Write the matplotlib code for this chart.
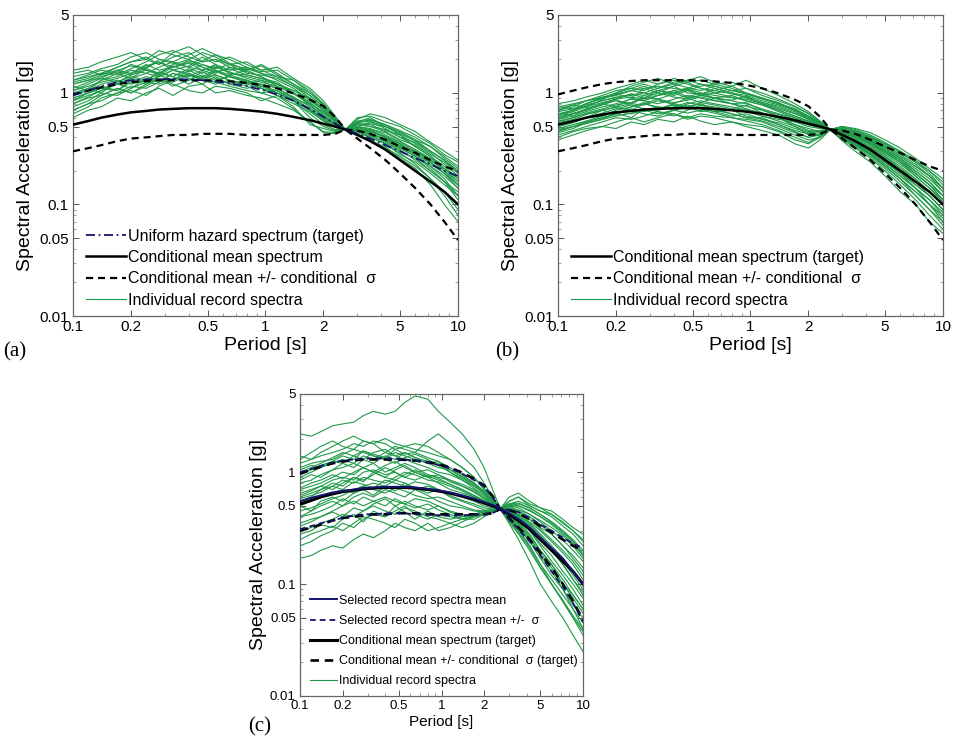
import numpy as np
import matplotlib
matplotlib.use("Agg")
import matplotlib.pyplot as plt
from matplotlib.ticker import LogLocator, NullFormatter

# -----------------------------
# Fonts
# -----------------------------
plt.rcParams["font.family"] = ["Liberation Sans", "DejaVu Sans"]

# -----------------------------
# Data
# -----------------------------
periods = [0.1, 0.12, 0.14, 0.17, 0.2, 0.24, 0.28, 0.33, 0.4, 0.47, 0.55, 0.65, 0.8, 0.95,
           1.15, 1.4, 1.7, 2.0, 2.3, 2.6, 3.0, 3.5, 4.2, 5.0, 6.0, 7.2, 8.5, 10]

cms_mean = [0.52, 0.56, 0.60, 0.64, 0.67, 0.69, 0.71, 0.72, 0.73, 0.73, 0.73, 0.72, 0.70, 0.68,
            0.65, 0.61, 0.57, 0.53, 0.50, 0.47, 0.42, 0.37, 0.31, 0.25, 0.20, 0.16, 0.13, 0.10]
cms_plus = [0.97, 1.05, 1.12, 1.20, 1.25, 1.28, 1.30, 1.30, 1.30, 1.30, 1.29, 1.27, 1.23, 1.18,
            1.10, 0.99, 0.87, 0.76, 0.61, 0.47, 0.46, 0.43, 0.38, 0.33, 0.29, 0.25, 0.22, 0.20]
cms_minus = [0.30, 0.32, 0.34, 0.37, 0.39, 0.40, 0.41, 0.42, 0.42, 0.43, 0.43, 0.43, 0.42, 0.42,
             0.42, 0.42, 0.42, 0.42, 0.43, 0.47, 0.39, 0.32, 0.25, 0.19, 0.14, 0.10, 0.07, 0.048]
uhs = [0.95, 1.05, 1.15, 1.25, 1.30, 1.32, 1.33, 1.33, 1.32, 1.30, 1.27, 1.22, 1.15, 1.07,
       0.97, 0.85, 0.72, 0.61, 0.53, 0.47, 0.43, 0.39, 0.34, 0.30, 0.26, 0.23, 0.20, 0.18]

sel_mean = [0.55, 0.59, 0.62, 0.66, 0.68, 0.70, 0.72, 0.73, 0.74, 0.74, 0.74, 0.73, 0.71, 0.69,
            0.66, 0.62, 0.58, 0.54, 0.51, 0.47, 0.43, 0.38, 0.32, 0.26, 0.21, 0.17, 0.13, 0.10]
sel_plus = [1.00, 1.07, 1.14, 1.22, 1.27, 1.30, 1.32, 1.33, 1.33, 1.32, 1.30, 1.27, 1.22, 1.16,
            1.08, 0.97, 0.85, 0.74, 0.60, 0.47, 0.46, 0.44, 0.39, 0.34, 0.30, 0.26, 0.23, 0.21]
sel_minus = [0.31, 0.33, 0.35, 0.37, 0.39, 0.41, 0.42, 0.42, 0.43, 0.43, 0.43, 0.42, 0.42, 0.41,
             0.41, 0.41, 0.42, 0.42, 0.43, 0.47, 0.38, 0.31, 0.24, 0.18, 0.13, 0.095, 0.068, 0.046]

records_a = [
    [0.85, 0.95, 1.05, 1.2, 1.35, 1.5, 1.4, 1.6, 1.5, 1.35, 1.45, 1.3, 1.2, 1.1, 0.95, 0.85, 0.7, 0.6, 0.52, 0.47, 0.5, 0.45, 0.4, 0.33, 0.3, 0.25, 0.21, 0.17],
    [1.3, 1.4, 1.5, 1.7, 1.9, 2.0, 1.8, 2.1, 2.3, 1.9, 2.0, 1.7, 1.6, 1.8, 1.5, 1.2, 0.95, 0.75, 0.58, 0.47, 0.55, 0.6, 0.5, 0.45, 0.38, 0.3, 0.25, 0.2],
    [0.6, 0.7, 0.75, 0.9, 0.85, 1.0, 1.1, 0.95, 1.15, 1.2, 1.0, 1.05, 0.95, 0.9, 0.8, 0.7, 0.55, 0.45, 0.44, 0.47, 0.45, 0.4, 0.35, 0.28, 0.24, 0.19, 0.15, 0.12],
    [1.0, 1.1, 1.3, 1.4, 1.6, 1.5, 1.7, 1.9, 1.7, 1.6, 1.8, 1.5, 1.4, 1.3, 1.2, 1.05, 0.9, 0.72, 0.56, 0.47, 0.52, 0.5, 0.45, 0.38, 0.34, 0.28, 0.24, 0.19],
    [0.75, 0.85, 1.0, 0.95, 1.1, 1.25, 1.2, 1.35, 1.3, 1.45, 1.3, 1.4, 1.25, 1.15, 1.05, 0.9, 0.78, 0.62, 0.52, 0.47, 0.47, 0.43, 0.38, 0.32, 0.27, 0.22, 0.18, 0.14],
    [1.6, 1.7, 1.9, 2.1, 2.3, 2.0, 2.4, 2.2, 2.0, 2.3, 2.1, 1.8, 1.9, 1.6, 1.4, 1.3, 1.05, 0.8, 0.6, 0.47, 0.6, 0.62, 0.55, 0.5, 0.42, 0.35, 0.28, 0.24],
    [0.9, 1.0, 1.1, 1.05, 1.25, 1.4, 1.3, 1.25, 1.45, 1.3, 1.2, 1.3, 1.15, 1.0, 1.05, 0.85, 0.6, 0.5, 0.46, 0.47, 0.42, 0.38, 0.32, 0.27, 0.22, 0.17, 0.13, 0.09],
    [1.1, 1.25, 1.4, 1.55, 1.45, 1.7, 1.9, 1.6, 1.75, 2.1, 1.8, 1.6, 1.7, 1.5, 1.3, 1.1, 0.85, 0.7, 0.57, 0.47, 0.5, 0.55, 0.48, 0.4, 0.36, 0.3, 0.25, 0.2],
    [0.7, 0.8, 0.85, 1.0, 1.15, 1.1, 1.25, 1.5, 1.35, 1.2, 1.4, 1.2, 1.1, 1.2, 1.0, 0.85, 0.7, 0.58, 0.5, 0.47, 0.45, 0.47, 0.4, 0.35, 0.28, 0.24, 0.19, 0.15],
    [1.2, 1.3, 1.35, 1.6, 1.75, 1.6, 1.5, 1.8, 2.0, 1.7, 1.55, 1.65, 1.45, 1.35, 1.25, 1.0, 0.82, 0.66, 0.55, 0.47, 0.53, 0.52, 0.46, 0.42, 0.33, 0.27, 0.22, 0.17],
    [0.95, 1.05, 1.2, 1.3, 1.2, 1.3, 1.5, 1.4, 1.2, 1.4, 1.6, 1.4, 1.3, 1.1, 0.95, 0.8, 0.68, 0.56, 0.5, 0.47, 0.48, 0.42, 0.36, 0.3, 0.26, 0.2, 0.16, 0.11],
    [1.4, 1.5, 1.65, 1.8, 2.1, 2.3, 2.0, 1.9, 2.2, 2.5, 2.2, 2.0, 1.7, 1.55, 1.6, 1.3, 1.0, 0.78, 0.6, 0.47, 0.56, 0.58, 0.52, 0.44, 0.38, 0.33, 0.27, 0.22],
    [0.8, 0.9, 0.95, 1.1, 1.0, 1.2, 1.35, 1.2, 1.05, 1.0, 1.15, 1.1, 1.0, 0.85, 0.95, 0.75, 0.52, 0.48, 0.45, 0.47, 0.43, 0.37, 0.33, 0.26, 0.21, 0.15, 0.1, 0.07],
    [1.05, 1.15, 1.25, 1.35, 1.5, 1.8, 1.6, 1.7, 1.9, 1.7, 1.5, 1.7, 1.55, 1.4, 1.15, 0.98, 0.8, 0.68, 0.56, 0.47, 0.5, 0.47, 0.44, 0.37, 0.31, 0.26, 0.21, 0.16],
    [1.25, 1.35, 1.5, 1.45, 1.65, 1.9, 2.2, 2.4, 2.1, 1.9, 2.0, 1.8, 1.5, 1.45, 1.35, 1.15, 0.9, 0.7, 0.55, 0.47, 0.52, 0.53, 0.5, 0.42, 0.35, 0.29, 0.23, 0.18],
    [0.65, 0.75, 0.9, 1.0, 1.05, 0.95, 1.15, 1.3, 1.5, 1.3, 1.25, 1.15, 1.05, 1.0, 0.9, 0.72, 0.55, 0.44, 0.43, 0.47, 0.46, 0.41, 0.37, 0.31, 0.25, 0.2, 0.16, 0.13],
    [1.5, 1.6, 1.45, 1.7, 1.9, 2.1, 1.8, 2.3, 2.6, 2.2, 1.9, 2.1, 1.8, 1.6, 1.7, 1.35, 1.1, 0.85, 0.62, 0.47, 0.58, 0.65, 0.6, 0.52, 0.45, 0.36, 0.3, 0.25],
    [0.85, 1.0, 1.15, 1.05, 1.3, 1.2, 1.45, 1.3, 1.6, 1.4, 1.25, 1.45, 1.3, 1.2, 1.1, 0.92, 0.75, 0.6, 0.52, 0.47, 0.49, 0.46, 0.4, 0.34, 0.29, 0.23, 0.19, 0.15],
    [1.15, 1.05, 1.3, 1.5, 1.35, 1.65, 1.5, 1.75, 1.55, 1.8, 1.6, 1.45, 1.6, 1.4, 1.2, 1.05, 0.88, 0.7, 0.56, 0.47, 0.53, 0.5, 0.47, 0.4, 0.33, 0.27, 0.2, 0.15],
    [0.7, 0.8, 0.95, 1.1, 1.0, 1.15, 1.35, 1.15, 1.3, 1.55, 1.35, 1.2, 1.3, 1.1, 1.0, 0.85, 0.65, 0.52, 0.47, 0.47, 0.44, 0.4, 0.35, 0.29, 0.23, 0.17, 0.12, 0.08],
    [1.3, 1.45, 1.6, 1.5, 1.8, 1.65, 2.0, 1.85, 1.7, 1.95, 2.2, 1.85, 1.6, 1.75, 1.45, 1.2, 1.0, 0.8, 0.6, 0.47, 0.55, 0.57, 0.52, 0.46, 0.4, 0.33, 0.26, 0.21],
    [0.95, 1.1, 1.0, 1.25, 1.4, 1.3, 1.55, 1.4, 1.65, 1.5, 1.7, 1.55, 1.35, 1.25, 1.15, 1.0, 0.82, 0.64, 0.53, 0.47, 0.5, 0.48, 0.42, 0.36, 0.31, 0.25, 0.2, 0.16],
    [1.05, 1.2, 1.35, 1.25, 1.45, 1.6, 1.45, 1.7, 1.85, 1.6, 1.75, 1.5, 1.45, 1.35, 1.2, 1.0, 0.78, 0.62, 0.52, 0.47, 0.47, 0.45, 0.41, 0.35, 0.3, 0.24, 0.19, 0.14],
    [0.8, 0.92, 1.05, 1.2, 1.1, 1.35, 1.25, 1.5, 1.4, 1.6, 1.45, 1.3, 1.2, 1.3, 1.1, 0.9, 0.7, 0.56, 0.49, 0.47, 0.46, 0.43, 0.39, 0.33, 0.28, 0.22, 0.17, 0.12],
    [1.2, 1.3, 1.45, 1.6, 1.5, 1.75, 1.9, 1.7, 1.95, 1.8, 1.65, 1.8, 1.65, 1.5, 1.4, 1.15, 0.95, 0.75, 0.58, 0.47, 0.54, 0.56, 0.5, 0.43, 0.37, 0.3, 0.25, 0.19],
    [0.9, 1.0, 1.1, 1.2, 1.35, 1.25, 1.4, 1.6, 1.45, 1.35, 1.55, 1.4, 1.25, 1.15, 1.0, 0.88, 0.72, 0.58, 0.5, 0.47, 0.48, 0.44, 0.38, 0.32, 0.27, 0.21, 0.16, 0.12],
]

records_b = [
    [0.55, 0.6, 0.65, 0.7, 0.75, 0.8, 0.78, 0.85, 0.8, 0.75, 0.8, 0.72, 0.7, 0.68, 0.62, 0.58, 0.55, 0.52, 0.5, 0.47, 0.42, 0.38, 0.32, 0.26, 0.21, 0.16, 0.13, 0.1],
    [0.7, 0.75, 0.85, 0.95, 1.05, 1.1, 1.2, 1.1, 1.25, 1.3, 1.2, 1.15, 1.05, 1.1, 0.95, 0.85, 0.75, 0.65, 0.55, 0.47, 0.5, 0.45, 0.4, 0.35, 0.3, 0.24, 0.2, 0.15],
    [0.4, 0.45, 0.48, 0.5, 0.55, 0.6, 0.55, 0.6, 0.65, 0.58, 0.62, 0.6, 0.55, 0.52, 0.5, 0.45, 0.38, 0.35, 0.4, 0.47, 0.38, 0.32, 0.26, 0.2, 0.15, 0.11, 0.08, 0.06],
    [0.6, 0.65, 0.72, 0.8, 0.85, 0.8, 0.9, 1.0, 0.92, 0.88, 0.95, 0.9, 0.85, 0.8, 0.72, 0.65, 0.6, 0.55, 0.5, 0.47, 0.44, 0.4, 0.35, 0.28, 0.23, 0.18, 0.14, 0.11],
    [0.45, 0.5, 0.55, 0.6, 0.65, 0.7, 0.65, 0.62, 0.7, 0.75, 0.68, 0.72, 0.65, 0.6, 0.6, 0.52, 0.45, 0.4, 0.42, 0.47, 0.4, 0.35, 0.28, 0.22, 0.17, 0.13, 0.1, 0.07],
    [0.75, 0.8, 0.85, 0.9, 1.0, 1.1, 1.05, 1.2, 1.3, 1.2, 1.1, 1.05, 1.15, 1.0, 0.9, 0.8, 0.7, 0.6, 0.52, 0.47, 0.48, 0.44, 0.39, 0.33, 0.27, 0.22, 0.18, 0.13],
    [0.5, 0.55, 0.6, 0.62, 0.7, 0.75, 0.8, 0.75, 0.72, 0.8, 0.85, 0.8, 0.75, 0.7, 0.65, 0.6, 0.52, 0.48, 0.45, 0.47, 0.43, 0.37, 0.3, 0.24, 0.19, 0.15, 0.12, 0.09],
    [0.65, 0.7, 0.78, 0.85, 0.92, 0.95, 1.0, 0.95, 1.05, 1.1, 1.0, 0.95, 0.9, 0.88, 0.8, 0.72, 0.65, 0.58, 0.52, 0.47, 0.45, 0.42, 0.36, 0.3, 0.25, 0.19, 0.15, 0.12],
    [0.42, 0.46, 0.5, 0.55, 0.6, 0.58, 0.62, 0.68, 0.65, 0.6, 0.65, 0.62, 0.6, 0.58, 0.55, 0.48, 0.42, 0.38, 0.4, 0.47, 0.39, 0.33, 0.27, 0.21, 0.16, 0.12, 0.09, 0.065],
    [0.58, 0.62, 0.68, 0.75, 0.8, 0.88, 0.85, 0.8, 0.88, 0.95, 0.9, 0.85, 0.8, 0.82, 0.7, 0.62, 0.55, 0.5, 0.48, 0.47, 0.44, 0.39, 0.33, 0.27, 0.21, 0.17, 0.13, 0.1],
    [0.68, 0.72, 0.8, 0.9, 0.95, 1.05, 1.15, 1.05, 1.0, 1.1, 1.2, 1.1, 1.0, 0.95, 0.85, 0.78, 0.7, 0.62, 0.54, 0.47, 0.47, 0.43, 0.37, 0.31, 0.26, 0.2, 0.16, 0.12],
    [0.48, 0.52, 0.56, 0.62, 0.68, 0.65, 0.7, 0.72, 0.78, 0.72, 0.75, 0.68, 0.62, 0.65, 0.58, 0.52, 0.46, 0.43, 0.44, 0.47, 0.41, 0.36, 0.29, 0.23, 0.18, 0.14, 0.11, 0.08],
    [0.62, 0.68, 0.75, 0.82, 0.88, 0.92, 0.88, 0.95, 1.0, 0.9, 0.95, 1.0, 0.92, 0.85, 0.78, 0.7, 0.62, 0.56, 0.5, 0.47, 0.46, 0.41, 0.35, 0.29, 0.24, 0.19, 0.15, 0.11],
    [0.52, 0.56, 0.6, 0.66, 0.72, 0.78, 0.72, 0.7, 0.75, 0.82, 0.78, 0.75, 0.7, 0.72, 0.62, 0.56, 0.5, 0.45, 0.46, 0.47, 0.42, 0.37, 0.31, 0.25, 0.2, 0.15, 0.12, 0.09],
    [0.72, 0.78, 0.85, 0.92, 0.98, 1.05, 1.1, 1.15, 1.1, 1.05, 1.15, 1.2, 1.1, 0.98, 0.88, 0.8, 0.72, 0.62, 0.54, 0.47, 0.49, 0.46, 0.41, 0.35, 0.29, 0.24, 0.19, 0.14],
    [0.46, 0.5, 0.53, 0.58, 0.62, 0.66, 0.7, 0.65, 0.7, 0.66, 0.7, 0.66, 0.6, 0.56, 0.52, 0.46, 0.4, 0.36, 0.41, 0.47, 0.4, 0.34, 0.28, 0.22, 0.17, 0.12, 0.09, 0.07],
    [0.56, 0.6, 0.66, 0.72, 0.78, 0.82, 0.9, 0.88, 0.82, 0.86, 0.92, 0.86, 0.8, 0.76, 0.7, 0.64, 0.58, 0.52, 0.49, 0.47, 0.45, 0.4, 0.34, 0.27, 0.22, 0.17, 0.13, 0.1],
    [0.64, 0.7, 0.76, 0.86, 0.9, 0.98, 0.95, 1.05, 1.15, 1.0, 0.98, 1.05, 0.98, 0.92, 0.82, 0.74, 0.66, 0.6, 0.53, 0.47, 0.46, 0.43, 0.38, 0.32, 0.26, 0.21, 0.17, 0.13],
    [0.62, 0.7, 0.8, 0.9, 1.0, 1.15, 1.25, 1.35, 1.2, 1.3, 1.4, 1.25, 1.15, 1.3, 1.1, 0.95, 0.8, 0.68, 0.56, 0.47, 0.5, 0.47, 0.42, 0.36, 0.3, 0.25, 0.2, 0.16],
    [0.38, 0.42, 0.46, 0.5, 0.48, 0.55, 0.52, 0.58, 0.55, 0.62, 0.56, 0.52, 0.55, 0.5, 0.46, 0.42, 0.35, 0.32, 0.38, 0.47, 0.37, 0.3, 0.24, 0.18, 0.13, 0.1, 0.07, 0.055],
    [0.58, 0.65, 0.7, 0.8, 0.75, 0.9, 0.85, 0.95, 1.05, 0.92, 1.0, 0.9, 0.95, 0.85, 0.78, 0.68, 0.6, 0.52, 0.48, 0.47, 0.44, 0.41, 0.36, 0.29, 0.24, 0.18, 0.14, 0.105],
    [0.7, 0.78, 0.74, 0.88, 0.98, 0.9, 1.1, 1.0, 1.15, 1.25, 1.1, 1.0, 1.05, 0.98, 0.9, 0.82, 0.7, 0.6, 0.53, 0.47, 0.47, 0.45, 0.4, 0.34, 0.28, 0.23, 0.18, 0.14],
    [0.44, 0.48, 0.54, 0.58, 0.66, 0.6, 0.72, 0.68, 0.62, 0.7, 0.78, 0.7, 0.65, 0.6, 0.56, 0.5, 0.44, 0.4, 0.43, 0.47, 0.4, 0.34, 0.28, 0.22, 0.17, 0.13, 0.1, 0.075],
    [0.66, 0.62, 0.72, 0.8, 0.88, 0.98, 0.9, 1.05, 0.95, 1.05, 0.95, 1.1, 1.0, 0.9, 0.82, 0.76, 0.68, 0.58, 0.51, 0.47, 0.45, 0.42, 0.37, 0.3, 0.24, 0.19, 0.15, 0.11],
    [0.5, 0.54, 0.6, 0.7, 0.65, 0.75, 0.82, 0.72, 0.8, 0.9, 0.82, 0.78, 0.72, 0.78, 0.66, 0.6, 0.52, 0.46, 0.45, 0.47, 0.43, 0.38, 0.32, 0.26, 0.2, 0.16, 0.12, 0.09],
    [0.8, 0.85, 0.92, 1.0, 1.1, 1.2, 1.3, 1.2, 1.35, 1.25, 1.3, 1.2, 1.25, 1.1, 1.0, 0.88, 0.76, 0.66, 0.55, 0.47, 0.5, 0.48, 0.44, 0.38, 0.32, 0.26, 0.21, 0.17],
    [0.54, 0.58, 0.64, 0.7, 0.74, 0.7, 0.8, 0.88, 0.78, 0.74, 0.82, 0.9, 0.8, 0.72, 0.66, 0.6, 0.5, 0.42, 0.42, 0.47, 0.41, 0.35, 0.29, 0.23, 0.18, 0.14, 0.1, 0.08],
    [0.6, 0.66, 0.7, 0.78, 0.86, 0.8, 0.95, 0.88, 0.98, 1.08, 0.96, 0.9, 0.86, 0.94, 0.8, 0.7, 0.62, 0.56, 0.5, 0.47, 0.46, 0.43, 0.38, 0.31, 0.25, 0.2, 0.16, 0.12],
    [0.47, 0.5, 0.55, 0.6, 0.64, 0.72, 0.68, 0.75, 0.7, 0.78, 0.72, 0.68, 0.7, 0.62, 0.58, 0.54, 0.48, 0.44, 0.45, 0.47, 0.42, 0.36, 0.3, 0.24, 0.19, 0.14, 0.11, 0.085],
    [0.76, 0.72, 0.8, 0.9, 0.96, 1.05, 1.0, 1.1, 1.2, 1.12, 1.05, 1.15, 1.05, 1.0, 0.9, 0.8, 0.72, 0.62, 0.54, 0.47, 0.48, 0.44, 0.39, 0.33, 0.27, 0.22, 0.18, 0.14],
]

records_c = [
    [2.2, 2.1, 2.3, 2.6, 2.7, 2.8, 3.2, 3.5, 3.3, 3.5, 4.2, 4.8, 4.5, 3.5, 2.8, 2.2, 1.6, 1.1, 0.7, 0.47, 0.55, 0.6, 0.5, 0.45, 0.42, 0.35, 0.3, 0.25],
    [1.3, 1.5, 1.7, 1.9, 1.7, 1.6, 1.9, 1.8, 1.5, 1.7, 1.6, 1.5, 1.9, 2.2, 1.8, 1.4, 1.1, 0.8, 0.6, 0.47, 0.6, 0.65, 0.55, 0.48, 0.45, 0.38, 0.32, 0.28],
    [0.17, 0.18, 0.2, 0.22, 0.21, 0.25, 0.28, 0.26, 0.3, 0.35, 0.32, 0.3, 0.35, 0.3, 0.32, 0.36, 0.4, 0.42, 0.45, 0.47, 0.35, 0.25, 0.16, 0.1, 0.07, 0.05, 0.035, 0.025],
    [0.9, 1.0, 1.1, 1.2, 1.3, 1.2, 1.4, 1.3, 1.5, 1.4, 1.3, 1.2, 1.1, 1.0, 0.95, 0.85, 0.75, 0.65, 0.55, 0.47, 0.5, 0.45, 0.4, 0.34, 0.28, 0.22, 0.17, 0.13],
    [0.3, 0.32, 0.35, 0.38, 0.42, 0.4, 0.45, 0.5, 0.45, 0.42, 0.48, 0.45, 0.4, 0.38, 0.35, 0.32, 0.35, 0.4, 0.44, 0.47, 0.38, 0.3, 0.22, 0.15, 0.11, 0.08, 0.06, 0.045],
    [0.55, 0.6, 0.7, 0.8, 0.75, 0.9, 0.85, 0.95, 1.1, 1.0, 0.9, 1.0, 0.9, 0.8, 0.7, 0.65, 0.6, 0.55, 0.5, 0.47, 0.45, 0.4, 0.32, 0.26, 0.2, 0.15, 0.11, 0.08],
    [1.0, 1.1, 1.2, 1.35, 1.5, 1.4, 1.3, 1.5, 1.6, 1.4, 1.5, 1.35, 1.25, 1.2, 1.0, 0.85, 0.72, 0.62, 0.53, 0.47, 0.55, 0.6, 0.52, 0.48, 0.42, 0.36, 0.3, 0.24],
    [0.22, 0.24, 0.27, 0.3, 0.35, 0.32, 0.38, 0.42, 0.4, 0.45, 0.5, 0.42, 0.38, 0.42, 0.4, 0.38, 0.42, 0.45, 0.46, 0.47, 0.42, 0.36, 0.28, 0.2, 0.15, 0.1, 0.08, 0.06],
    [0.7, 0.75, 0.8, 0.9, 1.0, 0.95, 1.1, 1.2, 1.0, 1.1, 1.2, 1.1, 0.95, 0.9, 0.85, 0.75, 0.68, 0.58, 0.51, 0.47, 0.47, 0.42, 0.36, 0.3, 0.24, 0.19, 0.15, 0.11],
    [0.4, 0.45, 0.5, 0.55, 0.5, 0.6, 0.65, 0.6, 0.7, 0.65, 0.6, 0.7, 0.62, 0.55, 0.5, 0.48, 0.45, 0.44, 0.45, 0.47, 0.4, 0.32, 0.24, 0.17, 0.12, 0.09, 0.065, 0.05],
    [1.2, 1.3, 1.4, 1.5, 1.6, 1.8, 1.7, 1.9, 1.8, 1.6, 1.7, 1.8, 1.7, 1.5, 1.3, 1.1, 0.9, 0.7, 0.56, 0.47, 0.52, 0.55, 0.5, 0.45, 0.4, 0.33, 0.28, 0.22],
    [0.5, 0.55, 0.6, 0.65, 0.7, 0.65, 0.75, 0.8, 0.75, 0.85, 0.8, 0.7, 0.75, 0.7, 0.62, 0.56, 0.52, 0.48, 0.47, 0.47, 0.43, 0.37, 0.3, 0.23, 0.18, 0.13, 0.1, 0.075],
    [0.35, 0.38, 0.4, 0.45, 0.5, 0.55, 0.5, 0.55, 0.6, 0.55, 0.52, 0.58, 0.55, 0.5, 0.45, 0.42, 0.4, 0.42, 0.45, 0.47, 0.36, 0.28, 0.2, 0.14, 0.1, 0.07, 0.05, 0.035],
    [0.8, 0.85, 0.95, 1.05, 1.1, 1.2, 1.1, 1.0, 1.15, 1.25, 1.1, 1.0, 1.05, 0.95, 0.85, 0.78, 0.7, 0.6, 0.52, 0.47, 0.5, 0.5, 0.45, 0.4, 0.34, 0.28, 0.23, 0.18],
    [0.6, 0.65, 0.7, 0.75, 0.85, 0.8, 0.9, 0.85, 0.8, 0.9, 1.0, 0.95, 0.85, 0.82, 0.75, 0.68, 0.6, 0.55, 0.5, 0.47, 0.44, 0.38, 0.3, 0.22, 0.16, 0.12, 0.09, 0.065],
    [0.45, 0.48, 0.52, 0.58, 0.62, 0.7, 0.75, 0.7, 0.65, 0.72, 0.68, 0.62, 0.58, 0.6, 0.55, 0.5, 0.46, 0.45, 0.46, 0.47, 0.45, 0.42, 0.38, 0.32, 0.28, 0.22, 0.18, 0.14],
    [1.1, 1.2, 1.25, 1.3, 1.45, 1.6, 1.5, 1.4, 1.3, 1.5, 1.4, 1.3, 1.2, 1.1, 1.05, 0.9, 0.78, 0.65, 0.54, 0.47, 0.48, 0.44, 0.38, 0.31, 0.25, 0.2, 0.16, 0.12],
    [0.25, 0.28, 0.3, 0.33, 0.3, 0.35, 0.4, 0.38, 0.35, 0.32, 0.38, 0.35, 0.3, 0.32, 0.35, 0.38, 0.4, 0.43, 0.45, 0.47, 0.4, 0.33, 0.25, 0.18, 0.13, 0.09, 0.06, 0.04],
    [0.65, 0.7, 0.75, 0.85, 0.9, 0.85, 1.0, 1.05, 0.95, 1.0, 0.9, 0.85, 0.95, 0.88, 0.78, 0.7, 0.62, 0.56, 0.5, 0.47, 0.46, 0.4, 0.34, 0.27, 0.21, 0.16, 0.12, 0.09],
    [0.95, 1.05, 1.15, 1.25, 1.2, 1.4, 1.55, 1.4, 1.3, 1.2, 1.35, 1.45, 1.3, 1.15, 1.0, 0.88, 0.76, 0.64, 0.54, 0.47, 0.5, 0.48, 0.42, 0.36, 0.3, 0.25, 0.2, 0.16],
    [0.5, 0.45, 0.55, 0.6, 0.55, 0.65, 0.7, 0.62, 0.75, 0.68, 0.8, 0.72, 0.65, 0.7, 0.6, 0.55, 0.5, 0.46, 0.46, 0.47, 0.42, 0.35, 0.27, 0.2, 0.15, 0.11, 0.08, 0.06],
    [0.85, 0.95, 0.9, 1.05, 1.2, 1.1, 1.3, 1.2, 1.4, 1.3, 1.5, 1.35, 1.2, 1.25, 1.05, 0.92, 0.8, 0.66, 0.55, 0.47, 0.52, 0.53, 0.48, 0.42, 0.36, 0.3, 0.25, 0.2],
    [0.28, 0.3, 0.34, 0.32, 0.38, 0.42, 0.36, 0.45, 0.4, 0.5, 0.44, 0.38, 0.45, 0.4, 0.38, 0.4, 0.42, 0.44, 0.46, 0.47, 0.39, 0.31, 0.22, 0.15, 0.1, 0.07, 0.05, 0.038],
    [0.62, 0.68, 0.75, 0.7, 0.8, 0.9, 0.82, 1.0, 0.9, 0.85, 0.95, 1.05, 0.92, 0.85, 0.78, 0.7, 0.62, 0.55, 0.5, 0.47, 0.45, 0.41, 0.35, 0.28, 0.22, 0.17, 0.13, 0.1],
    [0.4, 0.42, 0.45, 0.5, 0.58, 0.52, 0.6, 0.55, 0.5, 0.58, 0.52, 0.48, 0.52, 0.46, 0.42, 0.38, 0.38, 0.42, 0.45, 0.47, 0.37, 0.29, 0.21, 0.14, 0.1, 0.072, 0.052, 0.04],
    [1.05, 1.15, 1.1, 1.25, 1.4, 1.3, 1.55, 1.45, 1.35, 1.6, 1.45, 1.5, 1.35, 1.25, 1.1, 0.95, 0.8, 0.68, 0.56, 0.47, 0.52, 0.5, 0.46, 0.4, 0.35, 0.29, 0.24, 0.19],
    [0.72, 0.8, 0.85, 0.95, 0.88, 1.0, 1.1, 1.0, 0.9, 1.05, 1.15, 1.0, 0.9, 0.95, 0.82, 0.75, 0.66, 0.58, 0.51, 0.47, 0.48, 0.46, 0.42, 0.37, 0.32, 0.27, 0.22, 0.17],
    [0.33, 0.36, 0.4, 0.44, 0.4, 0.48, 0.45, 0.52, 0.58, 0.5, 0.55, 0.5, 0.46, 0.5, 0.44, 0.4, 0.4, 0.43, 0.45, 0.47, 0.41, 0.34, 0.26, 0.19, 0.14, 0.1, 0.075, 0.055],
    [0.58, 0.62, 0.66, 0.75, 0.7, 0.82, 0.78, 0.72, 0.85, 0.8, 0.75, 0.82, 0.78, 0.7, 0.65, 0.6, 0.55, 0.5, 0.48, 0.47, 0.44, 0.39, 0.33, 0.26, 0.2, 0.15, 0.11, 0.085],
    [1.4, 1.3, 1.5, 1.7, 1.9, 2.1, 1.9, 1.8, 2.0, 1.8, 1.7, 1.6, 1.5, 1.4, 1.3, 1.1, 0.9, 0.72, 0.58, 0.47, 0.5, 0.52, 0.48, 0.42, 0.36, 0.3, 0.24, 0.18],
]

xticks = [0.1, 0.2, 0.5, 1, 2, 5, 10]
xticklabels = ["0.1", "0.2", "0.5", "1", "2", "5", "10"]
yticks = [0.01, 0.05, 0.1, 0.5, 1, 5]
yticklabels = ["0.01", "0.05", "0.1", "0.5", "1", "5"]

green = "#1f9a48"
navy = "#14146e"
dash = (0, (3.2, 2.2))

# -----------------------------
# Figure
# -----------------------------
fig = plt.figure(figsize=(9.54, 7.47), dpi=100)
W, H = 954.0, 747.0


def make_axes(x0, y0, x1, y1):
    return fig.add_axes([x0 / W, 1 - y1 / H, (x1 - x0) / W, (y1 - y0) / H])


def style_axes(ax, fs):
    ax.set_xscale("log")
    ax.set_yscale("log")
    ax.set_xlim(0.1, 10)
    ax.set_ylim(0.01, 5)
    ax.set_xticks(xticks)
    ax.set_xticklabels(xticklabels)
    ax.set_yticks(yticks)
    ax.set_yticklabels(yticklabels)
    ax.xaxis.set_minor_locator(LogLocator(base=10, subs=np.arange(2, 10)))
    ax.yaxis.set_minor_locator(LogLocator(base=10, subs=np.arange(2, 10)))
    ax.xaxis.set_minor_formatter(NullFormatter())
    ax.yaxis.set_minor_formatter(NullFormatter())
    ax.tick_params(which="major", direction="in", top=True, right=True, length=4, width=0.7,
                   color="#555555", labelsize=fs, pad=3)
    ax.tick_params(which="minor", direction="in", top=True, right=True, length=2, width=0.5,
                   color="#777777")
    for s in ax.spines.values():
        s.set_color("#666666")
        s.set_linewidth(0.9)


def draw_records(ax, recs):
    for i, r in enumerate(recs):
        ax.plot(periods, r, color=green, lw=0.8,
                label="Individual record spectra" if i == 0 else None, zorder=2)


leg_kw = dict(loc="lower left", frameon=False, handletextpad=0.15, borderpad=0.2)

# ---- (a)
ax_a = make_axes(73, 15, 458, 316)
draw_records(ax_a, records_a)
ax_a.plot(periods, uhs, color=navy, lw=1.3, ls=(0, (5, 2, 1, 2)), zorder=4,
          label="Uniform hazard spectrum (target)")
ax_a.plot(periods, cms_mean, color="black", lw=1.8, zorder=3, label="Conditional mean spectrum")
ax_a.plot(periods, cms_plus, color="black", lw=1.6, ls=dash, zorder=3,
          label="Conditional mean +/- conditional  σ")
ax_a.plot(periods, cms_minus, color="black", lw=1.6, ls=dash, zorder=3)
style_axes(ax_a, 11)
ax_a.set_xlabel("Period [s]", fontsize=14, labelpad=2)
ax_a.set_ylabel("Spectral Acceleration [g]", fontsize=14, labelpad=4)
h, l = ax_a.get_legend_handles_labels()
order = [1, 2, 3, 0]
ax_a.legend([h[i] for i in order], [l[i] for i in order], bbox_to_anchor=(0.004, -0.01),
            fontsize=11.5, handlelength=2.5, labelspacing=0.4, **leg_kw)

# ---- (b)
ax_b = make_axes(558, 15, 943, 316)
draw_records(ax_b, records_b)
ax_b.plot(periods, cms_mean, color="black", lw=1.8, zorder=3,
          label="Conditional mean spectrum (target)")
ax_b.plot(periods, cms_plus, color="black", lw=1.6, ls=dash, zorder=3,
          label="Conditional mean +/- conditional  σ")
ax_b.plot(periods, cms_minus, color="black", lw=1.6, ls=dash, zorder=3)
style_axes(ax_b, 11)
ax_b.set_xlabel("Period [s]", fontsize=14, labelpad=2)
ax_b.set_ylabel("Spectral Acceleration [g]", fontsize=14, labelpad=4)
h, l = ax_b.get_legend_handles_labels()
order = [1, 2, 0]
ax_b.legend([h[i] for i in order], [l[i] for i in order], bbox_to_anchor=(0.004, -0.01),
            fontsize=11.5, handlelength=2.5, labelspacing=0.4, **leg_kw)

# ---- (c)
ax_c = make_axes(300, 394, 583, 696)
draw_records(ax_c, records_c)
ax_c.plot(periods, cms_mean, color="black", lw=2.2, zorder=3,
          label="Conditional mean spectrum (target)")
ax_c.plot(periods, cms_plus, color="black", lw=1.9, ls=dash, zorder=3,
          label="Conditional mean +/- conditional  σ (target)")
ax_c.plot(periods, cms_minus, color="black", lw=1.9, ls=dash, zorder=3)
ax_c.plot(periods, sel_mean, color=navy, lw=1.4, zorder=4, label="Selected record spectra mean")
ax_c.plot(periods, sel_plus, color=navy, lw=1.3, ls=dash, zorder=4,
          label="Selected record spectra mean +/-  σ")
ax_c.plot(periods, sel_minus, color=navy, lw=1.3, ls=dash, zorder=4)
style_axes(ax_c, 9.5)
ax_c.set_xlabel("Period [s]", fontsize=11, labelpad=2)
ax_c.set_ylabel("Spectral Acceleration [g]", fontsize=14, labelpad=2)
h, l = ax_c.get_legend_handles_labels()
order = [3, 4, 1, 2, 0]
ax_c.legend([h[i] for i in order], [l[i] for i in order], bbox_to_anchor=(0.005, 0.0),
            fontsize=9, handlelength=2.15, labelspacing=0.65, **leg_kw)

# panel letters
fig.text(3 / W, 1 - 352 / H, "(a)", family="Liberation Serif", fontsize=15, va="center")
fig.text(495 / W, 1 - 352 / H, "(b)", family="Liberation Serif", fontsize=15, va="center")
fig.text(248 / W, 1 - 727 / H, "(c)", family="Liberation Serif", fontsize=15, va="center")

fig.savefig("out.png", dpi=100)
